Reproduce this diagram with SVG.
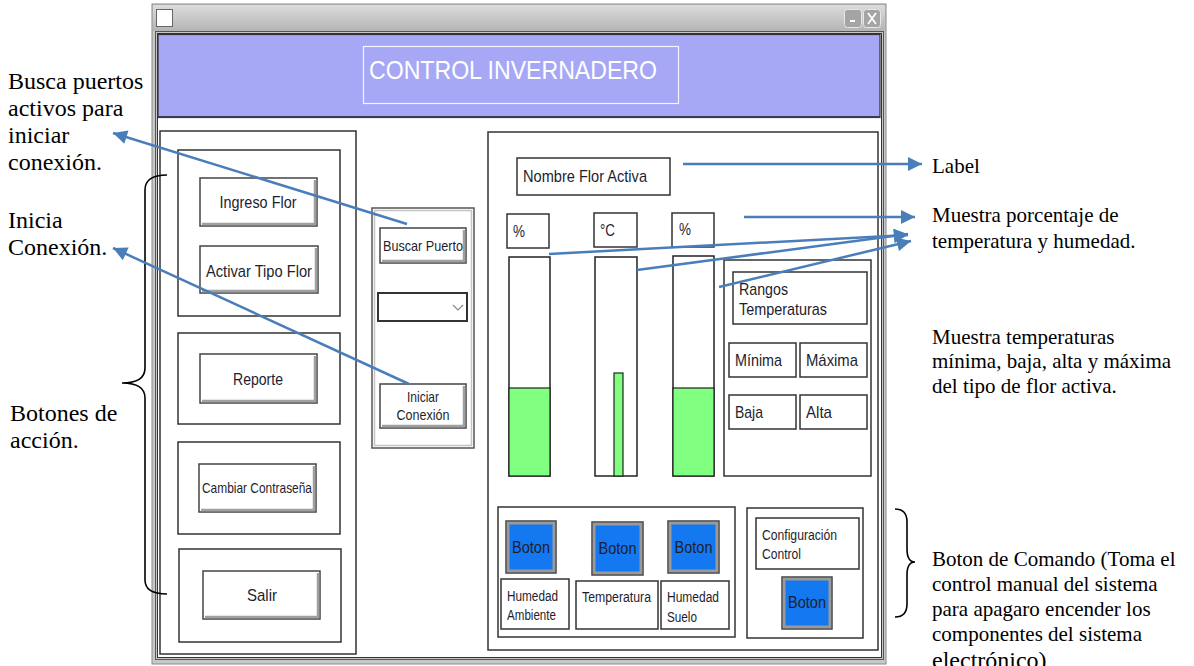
<svg xmlns="http://www.w3.org/2000/svg" width="1194" height="666" viewBox="0 0 1194 666">
  <defs>
    <linearGradient id="titleGrad" x1="0" y1="0" x2="0" y2="1">
      <stop offset="0" stop-color="#dcdcdc"/>
      <stop offset="1" stop-color="#b4b4b4"/>
    </linearGradient>
    <marker id="ah" viewBox="0 0 10 10" refX="10" refY="5" markerWidth="17" markerHeight="14" markerUnits="userSpaceOnUse" orient="auto">
      <path d="M0,0 L10,5 L0,10 z" fill="#4A7EBB"/>
    </marker>
  </defs>
  <style>
    .box { fill: #fff; stroke: #333; stroke-width: 1.5; }
    .btn { fill: #fff; stroke: #444; stroke-width: 1.5; }
    .bevel { fill: none; stroke: #a0a0a0; stroke-width: 2.5; }
    .blue { fill: #1479F0; stroke: #9a9a9a; stroke-width: 3; }
    .blueOut { fill: none; stroke: #444; stroke-width: 1.5; }
    .bar { fill: #fff; stroke: #222; stroke-width: 1.5; }
    .level { fill: #80FF80; stroke: #222; stroke-width: 1.2; }
    .ui { font-family: "Liberation Sans", Arial, sans-serif; fill: #1e1e2e; }
    .mid { text-anchor: middle; }
    .note { font-family: "Liberation Serif", "Times New Roman", serif; fill: #000; }
    .arrow { fill: none; stroke: #4A7EBB; stroke-width: 2.5; marker-end: url(#ah); }
    .brace { fill: none; stroke: #000; stroke-width: 1.6; }
  </style>

  <rect width="1194" height="666" fill="#fff"/>

  <!-- application window -->
  <g id="window">
    <rect x="152" y="4" width="734" height="660" fill="#c8c8c8" stroke="#8a8a8a"/>
    <rect x="153" y="5" width="732" height="26" fill="url(#titleGrad)"/>
    <rect x="156.5" y="9.5" width="16" height="17" fill="#fff" stroke="#666"/>
    <rect x="844.5" y="9.5" width="17" height="18" rx="3" fill="#a4a4a4" stroke="#e8e8e8"/>
    <rect x="863.5" y="9.5" width="17" height="18" rx="3" fill="#a4a4a4" stroke="#e8e8e8"/>
    <rect x="850" y="20" width="5" height="2" fill="#fff"/>
    <path d="M868,13 L876,24 M876,13 L868,24" stroke="#fff" stroke-width="1.8"/>
    <rect x="155.5" y="31.5" width="728" height="628" fill="none" stroke="#555" stroke-width="1"/>
    <rect x="157.5" y="33.5" width="724" height="624" fill="#fff" stroke="#333" stroke-width="1"/>
  </g>

  <!-- header -->
  <g id="header">
    <rect x="158" y="34.5" width="722" height="83" fill="#A6A8F6" stroke="#333" stroke-width="1.2"/>
    <line x1="158" y1="117" x2="880" y2="117" stroke="#3a3a55" stroke-width="2"/>
    <rect x="363.5" y="46.5" width="315" height="57" fill="none" stroke="#f4f4ff" stroke-width="1.2"/>
    <text x="369" y="79" class="ui" font-size="26" style="fill:#fff" textLength="288" lengthAdjust="spacingAndGlyphs">CONTROL INVERNADERO</text>
  </g>

  <!-- left action panel -->
  <g id="panel-acciones">
    <rect class="box" x="160" y="131" width="196" height="523"/>
    <rect class="box" x="178" y="150" width="162" height="166"/>
    <rect class="box" x="178" y="333" width="162" height="91"/>
    <rect class="box" x="178" y="442" width="162" height="92"/>
    <rect class="box" x="179" y="549" width="162" height="93"/>
  </g>
  <g id="btn-ingreso-flor">
    <rect class="btn" x="200" y="178" width="117" height="48"/>
    <path class="bevel" d="M202,224 H315 V180"/>
    <text x="258" y="208" class="ui mid" font-size="17" textLength="77" lengthAdjust="spacingAndGlyphs">Ingreso Flor</text>
  </g>
  <g id="btn-activar-tipo">
    <rect class="btn" x="200" y="246" width="118" height="47"/>
    <path class="bevel" d="M202,291 H316 V248"/>
    <text x="259" y="277" class="ui mid" font-size="17" textLength="106" lengthAdjust="spacingAndGlyphs">Activar Tipo Flor</text>
  </g>
  <g id="btn-reporte">
    <rect class="btn" x="200" y="354" width="117" height="49"/>
    <path class="bevel" d="M202,401 H315 V356"/>
    <text x="258" y="385" class="ui mid" font-size="17" textLength="50" lengthAdjust="spacingAndGlyphs">Reporte</text>
  </g>
  <g id="btn-contrasena">
    <rect class="btn" x="199" y="464" width="117" height="48"/>
    <path class="bevel" d="M201,510 H314 V466"/>
    <text x="257" y="493" class="ui mid" font-size="15" textLength="110" lengthAdjust="spacingAndGlyphs">Cambiar Contraseña</text>
  </g>
  <g id="btn-salir">
    <rect class="btn" x="203" y="571" width="117" height="48"/>
    <path class="bevel" d="M205,617 H318 V573"/>
    <text x="262" y="601" class="ui mid" font-size="17" textLength="30" lengthAdjust="spacingAndGlyphs">Salir</text>
  </g>

  <!-- connection panel -->
  <g id="panel-conexion">
    <rect x="372" y="208" width="102" height="240" fill="#fff" stroke="#555" stroke-width="1.5"/>
    <rect x="374.5" y="210.5" width="97" height="235" fill="none" stroke="#c4c4c4" stroke-width="1.5"/>
  </g>
  <g id="btn-buscar-puerto">
    <rect class="btn" x="380" y="228" width="86" height="35"/>
    <path class="bevel" d="M382,261 H464 V230"/>
    <text x="423" y="251" class="ui mid" font-size="15" textLength="80" lengthAdjust="spacingAndGlyphs">Buscar Puerto</text>
  </g>
  <g id="combo-puerto">
    <rect x="378" y="293" width="89" height="28" fill="#fff" stroke="#333" stroke-width="2"/>
    <path d="M453,305 L458,310 L463,305" fill="none" stroke="#888" stroke-width="1.2"/>
  </g>
  <g id="btn-iniciar">
    <rect class="btn" x="380" y="384" width="86" height="44"/>
    <path class="bevel" d="M382,426 H464 V386"/>
    <text x="423" y="402" class="ui mid" font-size="15" textLength="32" lengthAdjust="spacingAndGlyphs">Iniciar</text>
    <text x="423" y="420" class="ui mid" font-size="15" textLength="53" lengthAdjust="spacingAndGlyphs">Conexión</text>
  </g>

  <!-- monitoring panel -->
  <g id="panel-monitor">
    <rect class="box" x="488" y="132" width="390" height="518"/>
  </g>
  <g id="lbl-nombre-flor">
    <rect class="box" x="517" y="158" width="153" height="37"/>
    <text x="523" y="182" class="ui" font-size="17" textLength="124" lengthAdjust="spacingAndGlyphs">Nombre Flor Activa</text>
  </g>
  <g id="lbl-hum-ambiente">
    <rect class="box" x="507" y="214" width="42" height="34"/>
    <text x="513" y="237" class="ui" font-size="16" textLength="12" lengthAdjust="spacingAndGlyphs">%</text>
  </g>
  <g id="lbl-temperatura">
    <rect class="box" x="594" y="213" width="43" height="34"/>
    <text x="600" y="236" class="ui" font-size="16" textLength="15" lengthAdjust="spacingAndGlyphs">°C</text>
  </g>
  <g id="lbl-hum-suelo">
    <rect class="box" x="672" y="213" width="42" height="34"/>
    <text x="679" y="235" class="ui" font-size="16" textLength="12" lengthAdjust="spacingAndGlyphs">%</text>
  </g>
  <g id="bar-hum-ambiente">
    <rect class="bar" x="509" y="257" width="41" height="219"/>
    <rect class="level" x="509" y="388" width="41" height="88"/>
  </g>
  <g id="bar-temperatura">
    <rect class="bar" x="595" y="257" width="42" height="219"/>
    <rect class="level" x="614" y="373" width="9" height="103"/>
  </g>
  <g id="bar-hum-suelo">
    <rect class="bar" x="673" y="256" width="41" height="220"/>
    <rect class="level" x="673" y="388" width="41" height="88"/>
  </g>

  <!-- temperature ranges -->
  <g id="panel-rangos">
    <rect class="box" x="724" y="260" width="147" height="216"/>
  </g>
  <g id="lbl-rangos">
    <rect class="box" x="733" y="272" width="134" height="52"/>
    <text x="739" y="295" class="ui" font-size="17" textLength="49" lengthAdjust="spacingAndGlyphs">Rangos</text>
    <text x="739" y="315" class="ui" font-size="17" textLength="88" lengthAdjust="spacingAndGlyphs">Temperaturas</text>
  </g>
  <g id="lbl-minima">
    <rect class="box" x="729" y="343" width="67" height="34"/>
    <text x="735" y="366" class="ui" font-size="17" textLength="47" lengthAdjust="spacingAndGlyphs">Mínima</text>
  </g>
  <g id="lbl-maxima">
    <rect class="box" x="800" y="343" width="67" height="34"/>
    <text x="806" y="366" class="ui" font-size="17" textLength="52" lengthAdjust="spacingAndGlyphs">Máxima</text>
  </g>
  <g id="lbl-baja">
    <rect class="box" x="729" y="395" width="67" height="34"/>
    <text x="735" y="418" class="ui" font-size="17" textLength="28" lengthAdjust="spacingAndGlyphs">Baja</text>
  </g>
  <g id="lbl-alta">
    <rect class="box" x="800" y="395" width="67" height="34"/>
    <text x="806" y="418" class="ui" font-size="17" textLength="26" lengthAdjust="spacingAndGlyphs">Alta</text>
  </g>

  <!-- actuator switches -->
  <g id="panel-actuadores">
    <rect class="box" x="498" y="507" width="237" height="130"/>
  </g>
  <g id="btn-hum-ambiente">
    <rect class="blue" x="508" y="523" width="46" height="48"/>
    <rect class="blueOut" x="506" y="521" width="50" height="52"/>
    <text x="531" y="553" class="ui mid" font-size="17" textLength="38" lengthAdjust="spacingAndGlyphs">Boton</text>
  </g>
  <g id="btn-temperatura">
    <rect class="blue" x="594" y="524" width="47" height="49"/>
    <rect class="blueOut" x="592" y="522" width="51" height="53"/>
    <text x="617.5" y="554" class="ui mid" font-size="17" textLength="38" lengthAdjust="spacingAndGlyphs">Boton</text>
  </g>
  <g id="btn-hum-suelo">
    <rect class="blue" x="670" y="523" width="47" height="48"/>
    <rect class="blueOut" x="668" y="521" width="51" height="52"/>
    <text x="693.5" y="553" class="ui mid" font-size="17" textLength="38" lengthAdjust="spacingAndGlyphs">Boton</text>
  </g>
  <g id="txt-hum-ambiente">
    <rect class="box" x="501" y="579" width="68" height="50"/>
    <text x="507" y="601" class="ui" font-size="14" textLength="51" lengthAdjust="spacingAndGlyphs">Humedad</text>
    <text x="507" y="620" class="ui" font-size="14" textLength="49" lengthAdjust="spacingAndGlyphs">Ambiente</text>
  </g>
  <g id="txt-temperatura">
    <rect class="box" x="576" y="581" width="82" height="48"/>
    <text x="582" y="602" class="ui" font-size="14" textLength="69" lengthAdjust="spacingAndGlyphs">Temperatura</text>
  </g>
  <g id="txt-hum-suelo">
    <rect class="box" x="661" y="581" width="68" height="48"/>
    <text x="667" y="602" class="ui" font-size="14" textLength="52" lengthAdjust="spacingAndGlyphs">Humedad</text>
    <text x="667" y="622" class="ui" font-size="14" textLength="30" lengthAdjust="spacingAndGlyphs">Suelo</text>
  </g>

  <!-- manual control -->
  <g id="panel-control">
    <rect class="box" x="747" y="508" width="116" height="130"/>
  </g>
  <g id="lbl-config">
    <rect class="box" x="756" y="518" width="103" height="51"/>
    <text x="762" y="540" class="ui" font-size="14.5" textLength="75" lengthAdjust="spacingAndGlyphs">Configuración</text>
    <text x="762" y="559" class="ui" font-size="14.5" textLength="39" lengthAdjust="spacingAndGlyphs">Control</text>
  </g>
  <g id="btn-control">
    <rect class="blue" x="784" y="579" width="46" height="48"/>
    <rect class="blueOut" x="782" y="577" width="50" height="52"/>
    <text x="807" y="608" class="ui mid" font-size="17" textLength="38" lengthAdjust="spacingAndGlyphs">Boton</text>
  </g>

  <!-- annotations -->
  <g id="note-buscar" class="note" font-size="24">
    <text x="8" y="89">Busca puertos</text>
    <text x="8" y="116">activos para</text>
    <text x="8" y="143">iniciar</text>
    <text x="8" y="170">conexión.</text>
  </g>
  <g id="note-inicia" class="note" font-size="24">
    <text x="8" y="228">Inicia</text>
    <text x="8" y="255">Conexión.</text>
  </g>
  <g id="note-botones" class="note" font-size="24">
    <text x="10" y="421">Botones de</text>
    <text x="10" y="448">acción.</text>
  </g>
  <g id="note-label" class="note" font-size="21">
    <text x="932" y="173">Label</text>
  </g>
  <g id="note-porcentaje" class="note" font-size="21">
    <text x="932" y="222">Muestra porcentaje de</text>
    <text x="932" y="248">temperatura y humedad.</text>
  </g>
  <g id="note-rangos" class="note" font-size="21">
    <text x="932" y="344">Muestra temperaturas</text>
    <text x="932" y="368">mínima, baja, alta y máxima</text>
    <text x="932" y="393">del tipo de flor activa.</text>
  </g>
  <g id="note-comando" class="note" font-size="21">
    <text x="932" y="566">Boton de Comando (Toma el</text>
    <text x="932" y="591">control manual del sistema</text>
    <text x="932" y="616">para apagaro encender los</text>
    <text x="932" y="641">componentes del sistema</text>
    <text x="932" y="668" font-size="24">electrónico)</text>
  </g>

  <!-- connectors -->
  <g id="connectors">
    <path class="brace" d="M167,175 Q145,175 145,190 V368 Q145,383 122,383 Q145,383 145,398 V580 Q145,594 167,594"/>
    <path class="brace" d="M895,509 Q907,509 907,522 V549 Q907,562 915,562 Q907,562 907,575 V604 Q907,617 895,617"/>
    <line class="arrow" x1="407" y1="224" x2="113" y2="133"/>
    <line class="arrow" x1="409" y1="384" x2="113" y2="248"/>
    <line class="arrow" x1="683" y1="164" x2="922" y2="164"/>
    <line class="arrow" x1="744" y1="217" x2="915" y2="217"/>
    <line class="arrow" x1="549" y1="254" x2="908" y2="235"/>
    <line class="arrow" x1="637" y1="270" x2="908" y2="234"/>
    <line class="arrow" x1="719" y1="287" x2="911" y2="241"/>
  </g>
</svg>
